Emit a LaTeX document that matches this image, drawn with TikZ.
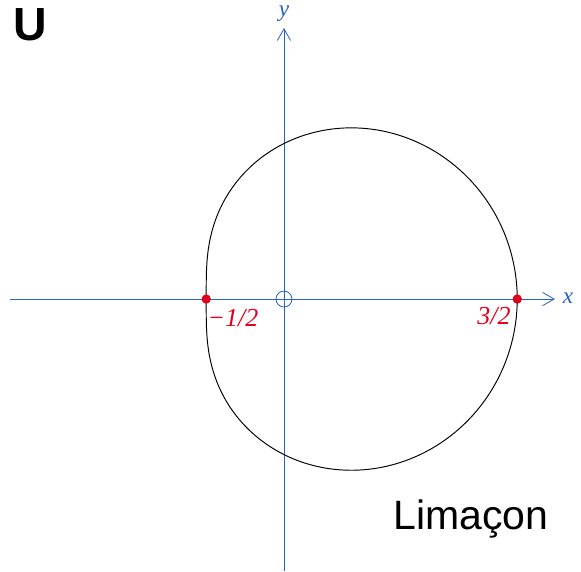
\documentclass[tikz,border=0pt]{standalone}
\usepackage{fontspec}
\setmainfont{Liberation Serif}
\newfontfamily\labsans{Liberation Sans}
\usepackage{tikz}
\usetikzlibrary{positioning,arrows.meta}
\definecolor{cAxis}{HTML}{2a62bd}
\definecolor{cPt}  {HTML}{e0001b}
\tikzset{
  >={Straight Barb[length=3mm,width=3.4mm]},
  axis/.style ={->,line width=0.6pt,cAxis},
  curv/.style ={line width=0.7pt,black},
  dot/.style  ={circle,fill=cPt,inner sep=0pt,minimum size=2.4mm},
  orig/.style ={circle,draw=cAxis,line width=0.6pt,inner sep=0pt,minimum size=4.1mm},
  alab/.style ={cAxis,font=\fontsize{17}{17}\selectfont\itshape,inner sep=0pt},
  plab/.style ={cPt,font=\fontsize{19}{19}\selectfont\itshape,inner sep=0pt},
}
\begin{document}
\begin{tikzpicture}[x=4cm,y=4cm]
  \useasboundingbox (-1.826,-1.749) rectangle (1.910,1.923);
  % axes
  \coordinate (xl) at (-1.762,0);
  \coordinate (xr) at (1.743,0);
  \coordinate (yb) at (0,-1.749);
  \coordinate (yt) at (0,1.743);
  \draw[axis] (xl) -- (xr);
  \draw[axis] (yb) -- (yt);
  \node[alab] (xlab) at (1.826,0.005) {x};
  \node[alab] (ylab) at (0,1.835) {y};
  \node[orig] (o) at (0,0) {};
  % the curve r = 1 + cos(t)/2
  \draw[curv] plot[domain=0:360,samples=240,smooth,variable=\t]
    ({(1+0.5*cos(\t))*cos(\t)},{(1+0.5*cos(\t))*sin(\t)});
  \node[dot] (m) at (-0.5,0) {};
  \node[dot] (p) at (1.5,0) {};
  \node[plab] (mlab) at (-0.328,-0.122) {−1/2};
  \node[plab] (plab) at (1.350,-0.109) {3/2};
  \node[font=\fontsize{34}{34}\selectfont\labsans\bfseries,inner sep=0pt] (tag) at (-1.633,1.762) {U};
  \node[font=\fontsize{30}{30}\selectfont\labsans,inner sep=0pt] (name) at (1.203,-1.415) {Limaçon};
\end{tikzpicture}
\end{document}
